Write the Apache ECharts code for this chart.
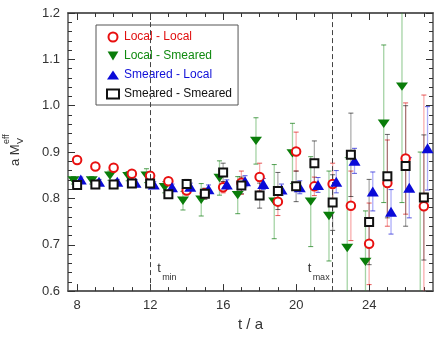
<!DOCTYPE HTML>
<html lang="en">
<head>
    <meta charset="utf-8">
    <title>a M_V eff</title>
    <style>
        html, body { margin: 0; padding: 0; background: #fff; }
        #myChart { width: 444px; height: 337px; }
    </style>
</head>
<body>
<div id="myChart"></div>
<script src="https://cdn.jsdelivr.net/npm/echarts@6/dist/echarts.min.js"></script>
<script>
    // time slices
    var tVals = [8, 9, 10, 11, 12, 13, 14, 15, 16, 17, 18, 19, 20, 21, 22, 23, 24, 25, 26, 27];
    // Local - Local
    var llVal = [0.883, 0.869, 0.866, 0.853, 0.849, 0.837, 0.817, 0.811, 0.824, 0.834, 0.846, 0.793, 0.901, 0.826, 0.831, 0.784, 0.702, 0.833, 0.886, 0.783];
    var llErr = [0.006, 0.006, 0.006, 0.007, 0.008, 0.008, 0.009, 0.010, 0.012, 0.025, 0.030, 0.030, 0.042, 0.020, 0.045, 0.075, 0.088, 0.093, 0.120, 0.240];
    // Local - Smeared
    var lsVal = [0.839, 0.839, 0.849, 0.848, 0.849, 0.824, 0.795, 0.797, 0.844, 0.807, 0.924, 0.793, 0.897, 0.793, 0.762, 0.693, 0.663, 0.961, 1.041, 0.560];
    var lsErr = [0.008, 0.008, 0.010, 0.010, 0.015, 0.012, 0.020, 0.035, 0.037, 0.040, 0.050, 0.080, 0.065, 0.097, 0.097, 0.195, 0.110, 0.170, 0.250, 0.340];
    // Smeared - Local
    var slVal = [0.841, 0.836, 0.836, 0.834, 0.830, 0.824, 0.825, 0.820, 0.830, 0.837, 0.831, 0.819, 0.824, 0.829, 0.836, 0.881, 0.815, 0.771, 0.823, 0.908];
    var slErr = [0.005, 0.005, 0.005, 0.006, 0.006, 0.007, 0.008, 0.009, 0.010, 0.012, 0.012, 0.012, 0.014, 0.016, 0.024, 0.027, 0.042, 0.048, 0.065, 0.090];
    // Smeared - Smeared
    var ssVal = [0.829, 0.830, 0.830, 0.832, 0.832, 0.809, 0.831, 0.810, 0.856, 0.828, 0.806, 0.816, 0.826, 0.876, 0.791, 0.894, 0.749, 0.848, 0.870, 0.802];
    var ssErr = [0.005, 0.005, 0.005, 0.006, 0.007, 0.008, 0.010, 0.012, 0.020, 0.018, 0.027, 0.040, 0.033, 0.048, 0.060, 0.090, 0.092, 0.090, 0.130, 0.135];
    // fit window
    var tCut = [12, 22];
    var xMajor = [8, 12, 16, 20, 24];

    var FONT = 'Liberation Sans';
    var AXIS = '#555';

    function pts(vals, off) {
        return tVals.map(function (t, i) { return [t + off, vals[i]]; });
    }
    function bars(vals, errs, off) {
        return tVals.map(function (t, i) { return [t + off, vals[i] - errs[i], vals[i] + errs[i]]; });
    }
    function errRender(barColor, capColor) {
        return function (params, api) {
            var x = api.value(0);
            var top = api.coord([x, api.value(2)]);
            var bot = api.coord([x, api.value(1)]);
            return {
                type: 'group',
                children: [
                    {type: 'line', shape: {x1: top[0], y1: top[1], x2: bot[0], y2: bot[1]}, style: {stroke: barColor, lineWidth: 1.3}},
                    {type: 'line', shape: {x1: top[0] - 2.5, y1: top[1], x2: top[0] + 2.5, y2: top[1]}, style: {stroke: capColor, lineWidth: 1}},
                    {type: 'line', shape: {x1: bot[0] - 2.5, y1: bot[1], x2: bot[0] + 2.5, y2: bot[1]}, style: {stroke: capColor, lineWidth: 1}}
                ]
            };
        };
    }
    function errSeries(name, vals, errs, off, barColor, capColor) {
        return {
            name: name, type: 'custom', clip: true, z: 1, silent: true,
            renderItem: errRender(barColor, capColor),
            encode: {x: 0, y: [1, 2]},
            data: bars(vals, errs, off)
        };
    }
    function xAx(pos, vals, len, withLabel) {
        return {
            type: 'value', position: pos, min: 7.5, max: 27.5,
            axisLine: {show: true, onZero: false, lineStyle: {color: AXIS, width: 1.5}},
            axisTick: {show: true, inside: true, length: len, customValues: vals, lineStyle: {color: '#333'}},
            axisLabel: withLabel ? {customValues: xMajor, fontSize: 13, fontFamily: FONT, color: '#333', margin: 8} : {show: false},
            splitLine: {show: false}
        };
    }
    function yAx(pos, withLabel) {
        return {
            type: 'value', position: pos, min: 0.6, max: 1.2, interval: 0.1,
            axisLine: {show: true, lineStyle: {color: AXIS, width: 1.5}},
            axisTick: {show: true, inside: true, length: 7, lineStyle: {color: '#333'}},
            minorTick: {show: true, splitNumber: 5, length: 4, lineStyle: {color: '#333'}},
            axisLabel: withLabel ? {fontSize: 13, fontFamily: FONT, color: '#333', margin: 8,
                formatter: function (v) { return v.toFixed(1); }} : {show: false},
            splitLine: {show: false},
            minorSplitLine: {show: false}
        };
    }

    chartFn();
    function chartFn() {
        var myChart = echarts.init(document.getElementById('myChart'));
        var downTri = 'path://M0,0L12,0L6,10Z';
        var xBottom = xAx('bottom', xMajor, 7, true);
        xBottom.name = 't / a';
        xBottom.nameLocation = 'middle';
        xBottom.nameGap = 22;
        xBottom.nameTextStyle = {fontSize: 15, fontFamily: FONT, color: '#333'};

        var option = {
            animation: false,
            backgroundColor: '#fff',
            grid: {left: 68, right: 11, top: 13, bottom: 44},
            xAxis: [xBottom, xAx('bottom', tVals, 4, false), xAx('top', xMajor, 7, false), xAx('top', tVals, 4, false)],
            yAxis: [yAx('left', true), yAx('right', false)],
            legend: {
                orient: 'vertical', left: 96, top: 25,
                itemWidth: 12, itemHeight: 9, itemGap: 7,
                padding: [6, 6, 5, 10],
                borderColor: '#555', borderWidth: 1, borderRadius: 0,
                backgroundColor: '#fff',
                textStyle: {fontSize: 12, fontFamily: FONT},
                data: [
                    {name: 'Local - Local', textStyle: {color: '#e01010'}},
                    {name: 'Local - Smeared', textStyle: {color: '#108a10'}},
                    {name: 'Smeared - Local', textStyle: {color: '#1010d8'}},
                    {name: 'Smeared - Smeared', textStyle: {color: '#111'}}
                ]
            },
            series: [
                errSeries('ls-err', lsVal, lsErr, -0.2, 'rgba(40,150,40,0.42)', 'rgba(10,120,10,0.7)'),
                errSeries('ll-err', llVal, llErr, 0, 'rgba(240,60,60,0.42)', 'rgba(220,20,20,0.7)'),
                errSeries('sl-err', slVal, slErr, 0.2, 'rgba(60,60,240,0.42)', 'rgba(20,20,210,0.7)'),
                errSeries('ss-err', ssVal, ssErr, 0, 'rgba(0,0,0,0.32)', 'rgba(0,0,0,0.6)'),
                {
                    name: 'Local - Smeared', type: 'scatter', z: 3,
                    symbol: downTri, symbolSize: [12, 10], symbolKeepAspect: true,
                    itemStyle: {color: '#0a7d0a', opacity: 1},
                    data: pts(lsVal, -0.2),
                    markLine: {
                        silent: true, symbol: 'none',
                        label: {show: false},
                        lineStyle: {color: '#444', width: 1, type: [5, 3]},
                        data: tCut.map(function (t) { return {xAxis: t}; })
                    }
                },
                {
                    name: 'Local - Local', type: 'scatter', z: 4,
                    symbol: 'emptyCircle', symbolSize: 8.5, symbolKeepAspect: true,
                    itemStyle: {color: '#e81010', borderColor: '#e81010', borderWidth: 1.6, opacity: 1},
                    data: pts(llVal, 0)
                },
                {
                    name: 'Smeared - Local', type: 'scatter', z: 5,
                    symbol: 'triangle', symbolSize: [12, 10], symbolKeepAspect: true,
                    itemStyle: {color: '#0a0ad8', opacity: 1},
                    data: pts(slVal, 0.2)
                },
                {
                    name: 'Smeared - Smeared', type: 'scatter', z: 6,
                    symbol: 'emptyRect', symbolSize: 8, symbolKeepAspect: true,
                    itemStyle: {color: '#111', borderColor: '#111', borderWidth: 1.8, opacity: 1},
                    data: pts(ssVal, 0)
                }
            ]
        };
        myChart.setOption(option);

        // y axis title and t_min / t_max labels
        var yBase = myChart.convertToPixel({gridIndex: 0}, [12, 0.6])[1];
        var xMin = myChart.convertToPixel({gridIndex: 0}, [tCut[0], 0.6])[0];
        var xMax = myChart.convertToPixel({gridIndex: 0}, [tCut[1], 0.6])[0];
        function tLabel(x, sub) {
            return {
                type: 'group', x: x, y: yBase - 23, silent: true,
                children: [
                    {type: 'text', x: 0, y: 0, style: {text: 't', font: '13px "' + FONT + '"', fill: '#333', align: 'center', verticalAlign: 'middle'}},
                    {type: 'text', x: 3, y: 9, style: {text: sub, font: '9px "' + FONT + '"', fill: '#333', align: 'left', verticalAlign: 'middle'}}
                ]
            };
        }
        myChart.setOption({
            graphic: [
                {
                    type: 'group', x: 15, y: 166, rotation: Math.PI / 2, silent: true,
                    children: [
                        {type: 'text', x: 0, y: 0, style: {text: 'a M', font: '13px "' + FONT + '"', fill: '#333', align: 'left', verticalAlign: 'middle'}},
                        {type: 'text', x: 22, y: 6, style: {text: 'V', font: '9px "' + FONT + '"', fill: '#333', align: 'left', verticalAlign: 'middle'}},
                        {type: 'text', x: 22, y: -8, style: {text: 'eff', font: '9px "' + FONT + '"', fill: '#333', align: 'left', verticalAlign: 'middle'}}
                    ]
                },
                tLabel(xMin + 9, 'min'),
                tLabel(xMax - 23, 'max')
            ]
        });
        window.addEventListener('resize', function () {
            myChart.resize();
        });
    }
</script>
</body>
</html>
